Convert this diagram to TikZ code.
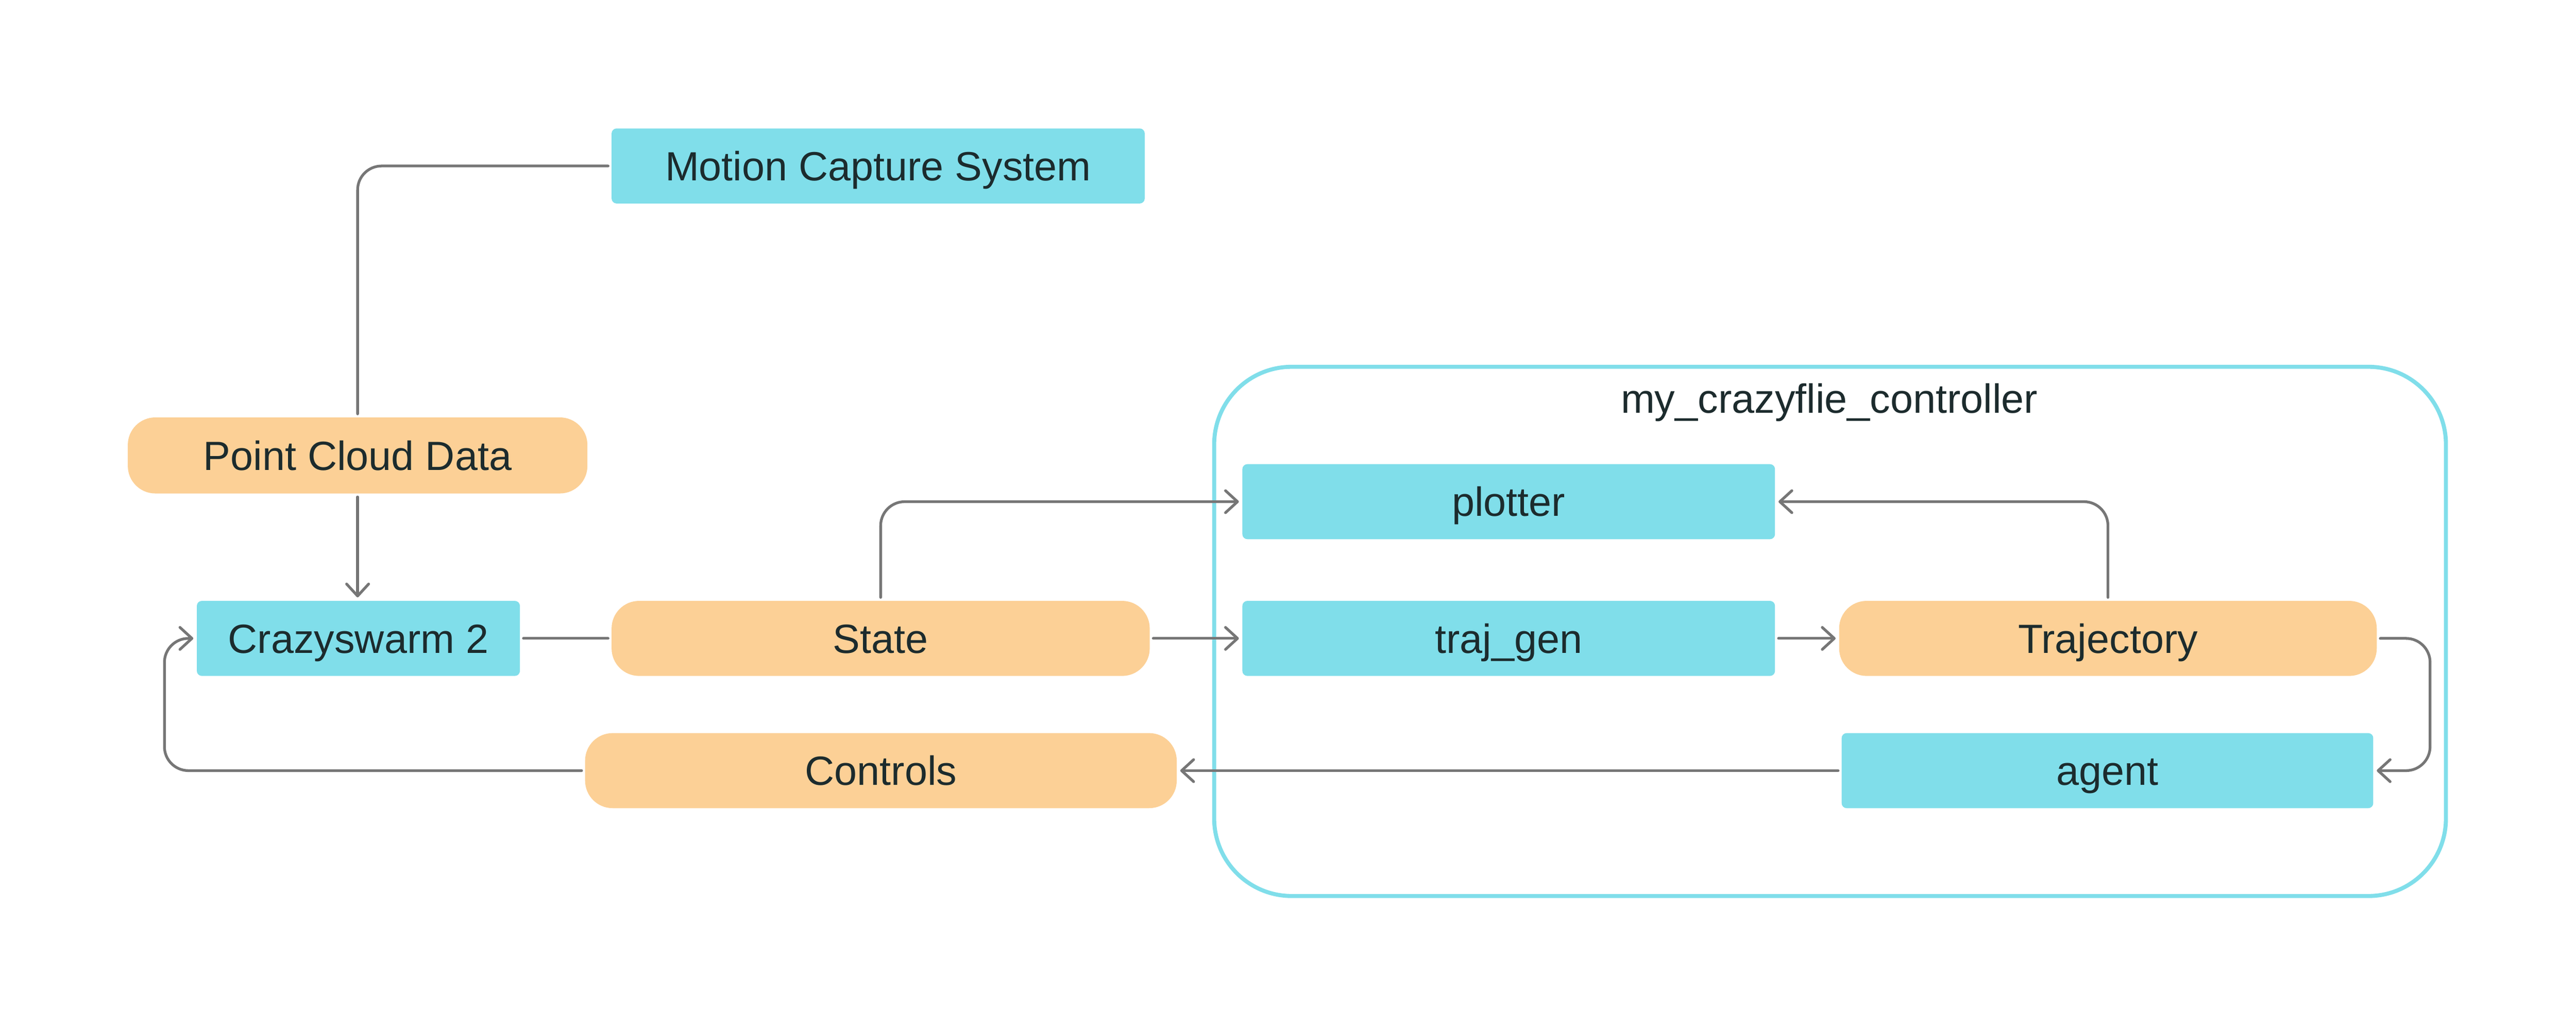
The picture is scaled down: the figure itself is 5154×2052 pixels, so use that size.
\documentclass[tikz,border=0pt]{standalone}
\usepackage{fontspec}
\setmainfont{Liberation Sans}
\usetikzlibrary{arrows.meta}
\definecolor{boxcyan}{HTML}{80DEEA}
\definecolor{boxorange}{HTML}{FCD096}
\definecolor{linegray}{HTML}{767676}
\definecolor{txt}{HTML}{1C2B2D}
\begin{document}
\begin{tikzpicture}[x=0.01cm,y=-0.01cm,
  base/.style={font=\fontsize{23.2pt}{28pt}\selectfont, text=txt, text height=16.6pt, text depth=0pt, inner sep=0pt, outer sep=2pt, minimum height=1.5cm},
  cyanbox/.style={base, fill=boxcyan, rounded corners=0.1cm},
  orangebox/.style={base, fill=boxorange, rounded corners=0.55cm},
  conn/.style={draw=linegray, line width=1.55pt, line cap=round, line join=round, rounded corners=0.48cm},
  arr/.style={conn, -{Straight Barb[length=0.24cm,width=0.44cm,line cap=round,line join=round]}},
]
\fill[white] (0,0) rectangle (5154,2052);
\useasboundingbox (0,0) rectangle (5154,2052);

\node[draw=boxcyan, line width=2.3pt, rounded corners=1.55cm, minimum width=24.63cm, minimum height=10.58cm, inner sep=0pt] (ctrl) at (3661.5,1263) {};
\node[base, outer sep=0pt] (title) at (3660,797) {my\_crazyflie\_controller};

\node[cyanbox, minimum width=10.66cm] (mcs) at (1757,332) {Motion Capture System};
\node[orangebox, minimum width=9.19cm, minimum height=1.52cm] (pcd) at (715.5,911) {Point Cloud Data};
\node[cyanbox, minimum width=6.46cm] (cs) at (717,1277) {Crazyswarm 2};
\node[orangebox, minimum width=10.76cm] (state) at (1762,1277) {State};
\node[orangebox, minimum width=11.83cm] (controls) at (1762.5,1541.5) {Controls};

\node[cyanbox, minimum width=10.65cm] (plotter) at (3018.5,1003.5) {plotter};
\node[cyanbox, minimum width=10.65cm] (trajgen) at (3018.5,1277) {traj\_gen};
\node[orangebox, minimum width=10.75cm] (traj) at (4217.5,1277) {Trajectory};
\node[cyanbox, minimum width=10.63cm] (agent) at (4216.5,1541.5) {agent};

\coordinate (tr) at (4862,1277);
\coordinate (cl) at (329,1541.5);

\draw[conn] (pcd.north) |- (mcs.west);
\draw[arr] (pcd.south) -- (pcd.south |- cs.north);
\draw[conn] (cs.east) -- (state.west);
\draw[arr] (state.north) |- (plotter.west);
\draw[arr] (state.east) -- (trajgen.west);
\draw[arr] (trajgen.east) -- (traj.west);
\draw[arr] (traj.north) |- (plotter.east);
\draw[arr] (traj.east) -- (tr) |- (agent.east);
\draw[arr] (agent.west) -- (controls.east);
\draw[arr] (controls.west) -- (cl) |- (cs.west);
\end{tikzpicture}
\end{document}
